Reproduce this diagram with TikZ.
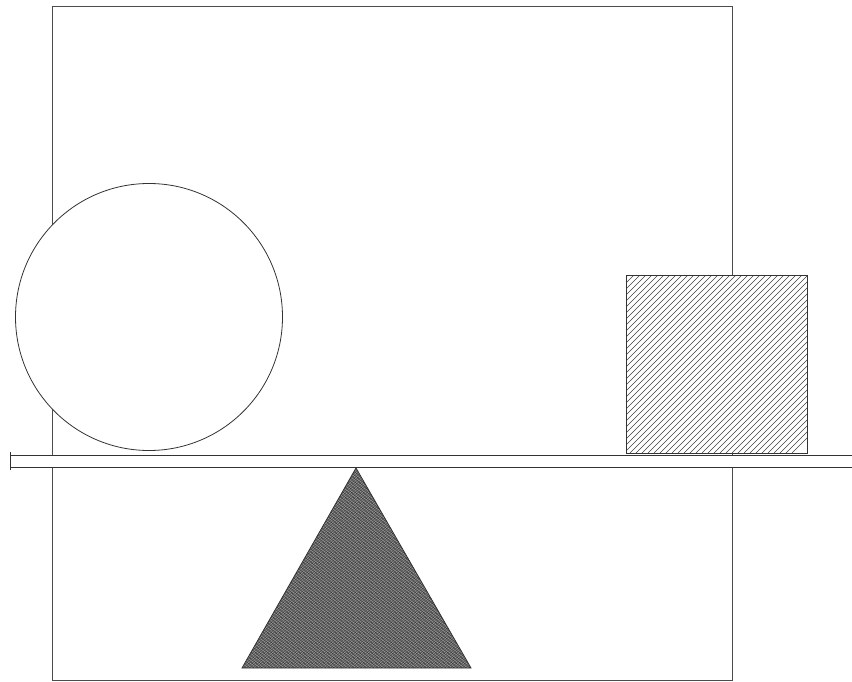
\documentclass[tikz,border=0pt]{standalone}
\begin{document}
\begin{tikzpicture}[x=1pt,y=-1pt,
  ink/.style={draw=black!80,line width=0.8pt},
  thin/.style={draw=black!70,line width=0.5pt},
  hatch/.style={draw=black!75,line width=0.45pt}]
\useasboundingbox (0,0) rectangle (852,682);
% frame
\draw[thin] (52,6) rectangle (732,680);
% plank
\coordinate (pl) at (10,455);
\filldraw[ink,fill=white] (10,455) rectangle (852,467);
\draw[ink] (10,452) -- (10,470);
% circle
\node[circle,ink,fill=white,minimum size=267pt,inner sep=0pt] (ball) at (149,317) {};
% square
\filldraw[ink,fill=white] (626,275) rectangle (807,453);
\begin{scope}
\clip (626,275) rectangle (807,453);
\foreach \i in {0,6,...,370} {
  \draw[hatch] (626+\i-200,453+0) -- (626+\i,253);
}
\end{scope}
\draw[ink] (626,275) rectangle (807,453);
% triangle
\coordinate (apex) at (356,468);
\coordinate (bl) at (242,668);
\coordinate (br) at (471,668);
\fill[black!62] (apex) -- (bl) -- (br) -- cycle;
\begin{scope}
\clip (apex) -- (bl) -- (br) -- cycle;
\foreach \i in {0,3,...,480} {
  \draw[white!70!black,line width=0.35pt] (242+\i-240,668) -- (242+\i,468);
}
\foreach \i in {0,4,...,480} {
  \draw[black!85,line width=0.3pt] (242+\i-240,468) -- (242+\i,668);
}
\end{scope}
\draw[ink] (apex) -- (bl) -- (br) -- cycle;
\end{tikzpicture}
\end{document}
